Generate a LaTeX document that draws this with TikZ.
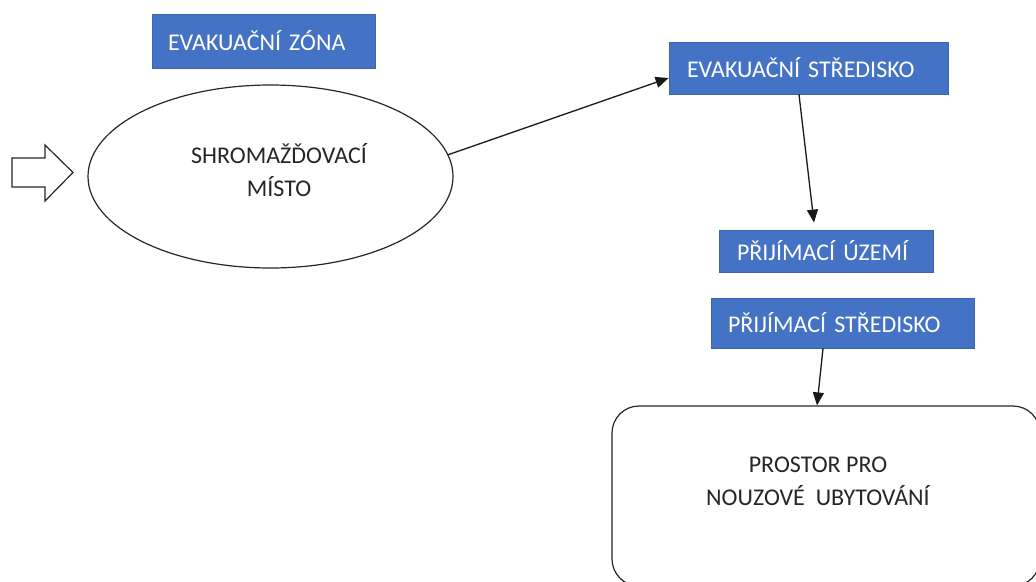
\documentclass[tikz,border=0pt]{standalone}
\usepackage{fontspec}
\setmainfont{Carlito}
\usetikzlibrary{shapes.geometric,arrows.meta,calc}
\definecolor{offblue}{HTML}{4472C4}
\definecolor{offedge}{HTML}{3A64AE}
\begin{document}
\begin{tikzpicture}[x=1pt,y=-1pt,
  bluebox/.style={rectangle, fill=offblue, draw=offedge, line width=0.8pt, text=white,
    font=\fontsize{24}{29}\selectfont, align=left, inner ysep=0pt},
  conn/.style={line width=1.3pt, black!90, -{Triangle[length=13pt,width=11pt]}},
  outline/.style={draw=black!85, line width=1.2pt},
  lbl/.style={font=\fontsize{24}{33}\selectfont, align=center, text=black!85}]
\useasboundingbox (0,0) rectangle (1036,581);
\clip (0,0) rectangle (1036,581);

% blue boxes
\node[bluebox, minimum height=54pt, text width=191pt, inner xsep=16pt] (ez) at (263.5,41) {EVAKUAČNÍ ZÓNA};
\node[bluebox, minimum height=52pt, text width=243pt, inner xsep=18pt] (evs) at (808.5,68) {EVAKUAČNÍ STŘEDISKO};
\node[bluebox, minimum height=42pt, text width=178pt, inner xsep=18pt] (pu) at (826,251) {PŘIJÍMACÍ ÚZEMÍ};
\node[bluebox, minimum height=50pt, text width=229pt, inner xsep=17pt] (ps) at (842.5,323) {PŘIJÍMACÍ STŘEDISKO};

% ellipse
\node[ellipse, outline, minimum width=365pt, minimum height=183pt, inner sep=0pt] (ell) at (270.5,176.5) {};
\node[lbl] (ellt) at (279,170.5) {SHROMAŽĎOVACÍ\\MÍSTO};

% block arrow
\draw[outline, line join=miter] (12,158) -- (45,158) -- (45,145) -- (73,172.5) -- (45,201) -- (45,187) -- (12,187) -- cycle;

% rounded rectangle
\node[outline, rectangle, rounded corners=27pt, minimum width=428pt, minimum height=180pt, inner sep=0pt] (pr) at (826,496) {};
\node[lbl] (prt) at (818,481) {PROSTOR PRO\\NOUZOVÉ\ \ UBYTOVÁNÍ};

% connectors
\draw[conn] (ell.7) -- ([yshift=-10pt]evs.west);
\draw[conn] ([xshift=-9.5pt]evs.south) -- ([xshift=-12pt,yshift=7pt]pu.north);
\draw[conn] ([xshift=-19.5pt]ps.south) -- ([xshift=-9pt]pr.north);
\end{tikzpicture}
\end{document}
